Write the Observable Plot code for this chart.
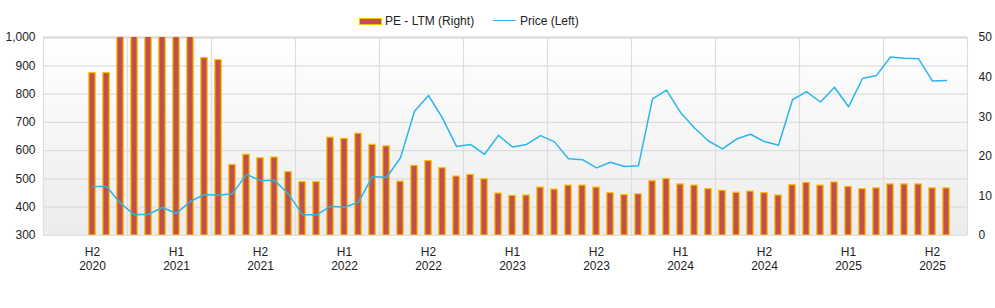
<!DOCTYPE html>
<html>
<head>
<meta charset="utf-8">
<script src="https://cdn.jsdelivr.net/npm/d3@7"></script>
<script src="https://cdn.jsdelivr.net/npm/@observablehq/plot@0.6"></script>
<style>
  body { margin: 0; background: #fff; font-family: "Liberation Sans", Arial, sans-serif; }
  #legend { position: relative; width: 995px; height: 28px; font-size: 12px; color: #222; }
  #legend .item { position: absolute; top: 14px; line-height: 14px; }
  #legend .sw-bar { position: absolute; left: 359px; top: 18px; width: 21px; height: 5px; background: #c0504d; border: 1.5px solid #ffc000; }
  #legend .sw-line { position: absolute; left: 493px; top: 20px; width: 23px; height: 0; border-top: 1.5px solid #29b6ec; }
  svg { display: block; }
</style>
</head>
<body>
<div id="legend">
  <div class="sw-bar"></div>
  <div class="item" style="left:385px">PE - LTM (Right)</div>
  <div class="sw-line"></div>
  <div class="item" style="left:520px">Price (Left)</div>
</div>
<div id="chart"></div>
<script>
// Monthly observations, Jul 2020 .. Aug 2025 (62 months)
const price = [473, 473, 414, 373, 375, 399, 378, 421, 445, 442, 448, 516, 494, 495, 447, 373,
  373, 403, 400, 418, 509, 505, 575, 739, 795, 715, 615, 622, 587, 654, 613, 622,
  653, 631, 571, 568, 539, 559, 544, 547, 783, 814, 735, 680, 634, 606, 641, 658,
  632, 619, 780, 809, 772, 824, 755, 855, 866, 931, 927, 925, 846, 848];
const pe = [41.0, 41.0, 60, 60, 60, 60, 60, 60, 44.8, 44.3, 17.8, 20.4, 19.5, 19.7, 16.0, 13.5,
  13.5, 24.7, 24.4, 25.7, 22.9, 22.5, 13.6, 17.6, 18.8, 17.0, 14.9, 15.3, 14.2, 10.6, 10.0, 10.1,
  12.1, 11.6, 12.6, 12.6, 12.1, 10.7, 10.2, 10.4, 13.7, 14.3, 12.9, 12.6, 11.7, 11.3, 10.8, 11.1,
  10.7, 10.1, 12.7, 13.3, 12.6, 13.4, 12.3, 11.7, 11.9, 12.9, 12.9, 12.9, 11.9, 11.9];
const tickHalves = ["H2", "H1", "H2", "H1", "H2", "H1", "H2", "H1", "H2", "H1", "H2"];
const tickYears = ["2020", "2021", "2021", "2022", "2022", "2023", "2023", "2024", "2024", "2025", "2025"];
const leftTicks = [300, 400, 500, 600, 700, 800, 900, 1000];
const rightTicks = [0, 10, 20, 30, 40, 50];

const leftMin = 300, leftMax = 1000, rightMax = 50;
const toLeft = v => leftMin + v * (leftMax - leftMin) / rightMax;
const fromLeft = v => (v - leftMin) * rightMax / (leftMax - leftMin);

const data = price.map((p, i) => ({i, price: p, pe: pe[i], peL: toLeft(pe[i])}));
const tickIdx = tickHalves.map((_, k) => k * 6);
const labelMap = new Map(tickIdx.map((t, k) => [t, tickHalves[k] + "\n" + tickYears[k]]));
const gridX = [-3.5, ...tickIdx.map(t => t + 2.5)];

const chart = Plot.plot({
  width: 995,
  height: 280,
  marginTop: 9,
  marginBottom: 73,
  marginLeft: 43,
  marginRight: 28,
  style: {fontFamily: "'Liberation Sans', Arial, sans-serif", fontSize: "12px", color: "#222", background: "transparent"},
  x: {type: "linear", domain: [-3.5, 62.5], label: null},
  y: {domain: [leftMin, leftMax], label: null},
  marks: [
    Plot.frame({fill: "url(#bgGrad)", stroke: null}),
    Plot.ruleY(leftTicks, {stroke: "#dddddd", strokeWidth: 1.2}),
    Plot.ruleX(gridX, {stroke: "#dddddd", strokeWidth: 1.2}),
    Plot.ruleY([leftMax], {stroke: "#dcdcdc", strokeWidth: 2.5}),
    Plot.rectY(data, {
      x1: d => d.i - 0.5, x2: d => d.i + 0.5, y1: leftMin, y2: "peL",
      insetLeft: 3.8, insetRight: 3.8,
      fill: "#c0504d", stroke: "#ffc000", strokeWidth: 1.2, clip: true
    }),
    Plot.line(data, {x: "i", y: "price", stroke: "#29b6ec", strokeWidth: 1.5}),
    Plot.axisY(leftTicks, {anchor: "left", tickSize: 0, tickPadding: 8, tickFormat: d3.format(","), fill: "#222", fontSize: 12, label: null}),
    Plot.axisY(rightTicks.map(toLeft), {anchor: "right", tickSize: 0, tickPadding: 11, tickFormat: d => String(Math.round(fromLeft(d))), fill: "#222", fontSize: 12, label: null}),
    Plot.axisX(tickIdx, {tickSize: 0, tickPadding: 10, tickFormat: d => labelMap.get(d), fill: "#222", fontSize: 12, lineHeight: 1.2, label: null})
  ]
});

const svg = d3.select(chart);
const defs = svg.insert("defs", ":first-child");
const g = defs.append("linearGradient").attr("id", "bgGrad").attr("x1", 0).attr("y1", 0).attr("x2", 0).attr("y2", 1);
g.append("stop").attr("offset", "0%").attr("stop-color", "#ffffff");
g.append("stop").attr("offset", "100%").attr("stop-color", "#ececec");
document.getElementById("chart").appendChild(chart);
</script>
</body>
</html>
